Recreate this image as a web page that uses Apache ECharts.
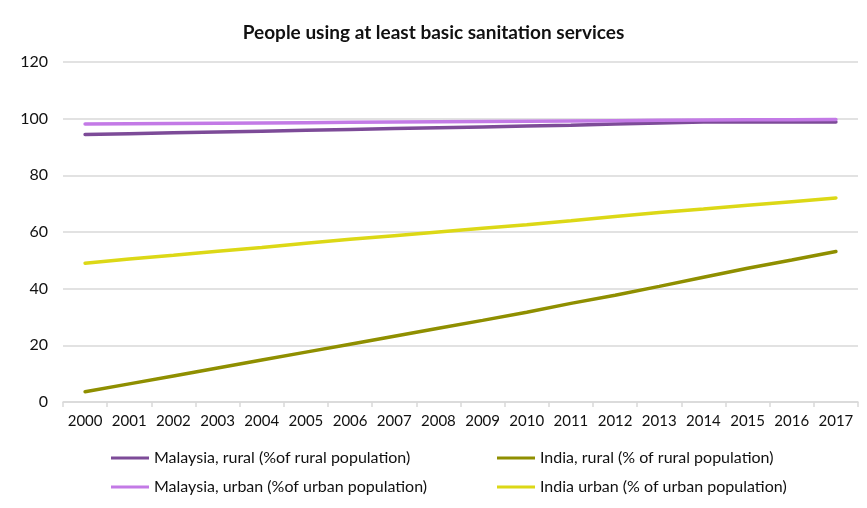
<!DOCTYPE html>
<html>
<head>
<meta charset="utf-8">
<script src="https://cdn.jsdelivr.net/npm/echarts@6/dist/echarts.min.js"></script>
<style>html,body{margin:0;padding:0;background:#fff}#chart{width:867px;height:508px}</style>
</head>
<body>
<div id="chart"></div>
<script>
// Years on the horizontal axis
const years = ['2000','2001','2002','2003','2004','2005','2006','2007','2008','2009',
               '2010','2011','2012','2013','2014','2015','2016','2017'];

// Share of population using at least basic sanitation services (%)
const malaysiaRural = [94.4,94.7,95.0,95.3,95.6,95.9,96.2,96.5,96.8,97.1,97.4,97.7,98.1,98.5,98.8,98.8,98.8,98.8];
const malaysiaUrban = [98.1,98.2,98.3,98.4,98.5,98.6,98.7,98.8,98.9,99.0,99.1,99.2,99.3,99.4,99.5,99.6,99.6,99.7];
const indiaRural    = [3.6,6.4,9.2,12.0,14.8,17.6,20.4,23.2,26.0,28.8,31.7,34.8,37.7,40.8,44.0,47.2,50.1,53.1];
const indiaUrban    = [49.0,50.5,51.8,53.2,54.5,56.0,57.4,58.7,60.0,61.3,62.6,64.0,65.5,66.9,68.1,69.4,70.7,72.0];

const yTicks = { min: 0, max: 120, interval: 20 };

const FONT = 'Lato, "Open Sans", sans-serif';

const chart = echarts.init(document.getElementById('chart'), null, { renderer: 'canvas' });

function lineSeries(name, data, color) {
  return {
    name: name,
    type: 'line',
    data: data,
    symbol: 'none',
    smooth: false,
    lineStyle: { width: 3.5, color: color, cap: 'round' },
    itemStyle: { color: color }
  };
}

const legendCommon = {
  orient: 'vertical',
  top: 445,
  itemGap: 13,
  itemWidth: 38,
  itemHeight: 3,
  icon: 'rect',
  textStyle: { fontFamily: FONT, fontSize: 16, color: '#111' }
};

chart.setOption({
  animation: false,
  title: {
    text: 'People using at least basic sanitation services',
    left: 'center',
    top: 18,
    textStyle: { fontFamily: FONT, fontSize: 19, fontWeight: 'bold', color: '#111' }
  },
  legend: [
    Object.assign({ left: 106, data: ['Malaysia, rural (%of rural population)', 'Malaysia, urban (%of urban population)'] }, legendCommon),
    Object.assign({ left: 492, data: ['India, rural (% of rural population)', 'India urban (% of urban population)'] }, legendCommon)
  ],
  grid: { left: 63, right: 9, top: 62, bottom: 106 },
  xAxis: {
    type: 'category',
    data: years,
    boundaryGap: true,
    axisLine: { lineStyle: { color: '#d9d9d9', width: 1.5 } },
    axisTick: { show: true, interval: 0, length: 5, lineStyle: { color: '#d9d9d9', width: 1.5 } },
    axisLabel: { interval: 0, fontFamily: FONT, fontSize: 15, color: '#111', margin: 12 }
  },
  yAxis: {
    type: 'value',
    min: yTicks.min,
    max: yTicks.max,
    interval: yTicks.interval,
    axisLine: { show: false },
    axisTick: { show: false },
    axisLabel: { fontFamily: FONT, fontSize: 16, color: '#111', margin: 15 },
    splitLine: { lineStyle: { color: '#d9d9d9', width: 1.5 } }
  },
  series: [
    lineSeries('Malaysia, rural (%of rural population)', malaysiaRural, '#7d4b98'),
    lineSeries('India, rural (% of rural population)', indiaRural, '#8f8f00'),
    lineSeries('Malaysia, urban (%of urban population)', malaysiaUrban, '#c37ae6'),
    lineSeries('India urban (% of urban population)', indiaUrban, '#dcd816')
  ]
});
</script>
</body>
</html>
